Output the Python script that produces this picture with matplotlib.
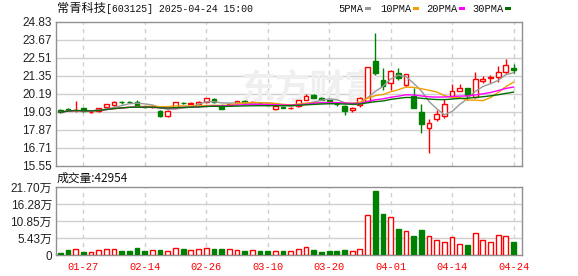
import numpy as np
import pandas as pd
import matplotlib
matplotlib.use('Agg')
import matplotlib.pyplot as plt
from matplotlib.patches import Rectangle

# trading days shown on the chart
dates = ['01-22', '01-23', '01-24', '01-27', '02-05', '02-06', '02-07', '02-10', '02-11', '02-12',
         '02-13', '02-14', '02-17', '02-18', '02-19', '02-20', '02-21', '02-24', '02-25', '02-26',
         '02-27', '02-28', '03-03', '03-04', '03-05', '03-06', '03-07', '03-10', '03-11', '03-12',
         '03-13', '03-14', '03-17', '03-18', '03-19', '03-20', '03-21', '03-24', '03-25', '03-26',
         '03-27', '03-28', '03-31', '04-01', '04-02', '04-03', '04-07', '04-08', '04-09', '04-10',
         '04-11', '04-14', '04-15', '04-16', '04-17', '04-18', '04-21', '04-22', '04-23', '04-24']

opens = [19.15, 19.20, 19.14, 19.27, 19.03, 19.10, 19.36, 19.48, 19.66, 19.68,
         19.64, 19.36, 19.31, 19.10, 18.73, 19.27, 19.60, 19.55, 19.50, 19.68,
         19.88, 19.38, 19.45, 19.58, 19.72, 19.62, 19.58, 19.55, 19.20, 19.35,
         19.25, 19.38, 19.82, 20.10, 19.93, 19.78, 19.55, 19.42, 19.14, 19.45,
         19.70, 22.30, 21.07, 20.86, 21.51, 20.75, 20.04, 18.99, 17.96, 18.58,
         18.77, 20.02, 20.37, 20.56, 19.96, 21.00, 21.20, 21.25, 21.57, 21.83]
highs = [19.20, 19.25, 19.70, 19.30, 19.10, 19.30, 19.55, 19.70, 19.72, 19.75,
         19.77, 19.42, 19.40, 19.15, 19.12, 19.66, 19.66, 19.66, 19.75, 19.93,
         19.92, 19.50, 19.60, 19.72, 19.78, 19.72, 19.62, 19.60, 19.42, 19.40,
         19.35, 19.80, 20.17, 20.15, 19.98, 19.82, 19.62, 19.45, 19.35, 19.95,
         21.89, 24.08, 21.85, 21.70, 21.83, 21.45, 20.55, 19.53, 18.56, 19.14,
         19.83, 20.82, 20.80, 20.58, 21.60, 21.30, 21.40, 21.98, 22.41, 22.10]
lows = [18.98, 19.12, 19.05, 19.03, 18.98, 19.05, 19.30, 19.40, 19.55, 19.60,
        19.40, 19.25, 19.25, 18.68, 18.70, 19.22, 19.50, 19.50, 19.45, 19.60,
        19.60, 19.18, 19.40, 19.55, 19.62, 19.50, 19.50, 19.45, 19.12, 19.25,
        19.18, 19.33, 19.78, 19.90, 19.78, 19.60, 19.40, 18.84, 19.02, 19.35,
        19.65, 21.40, 20.43, 20.45, 21.07, 20.64, 19.30, 17.64, 16.40, 18.45,
        18.64, 20.02, 20.37, 19.80, 19.90, 20.90, 20.90, 20.97, 21.44, 21.50]
closes = [19.00, 19.16, 19.17, 19.06, 19.05, 19.27, 19.53, 19.66, 19.63, 19.66,
          19.42, 19.33, 19.33, 18.73, 19.10, 19.64, 19.57, 19.58, 19.68, 19.90,
          19.65, 19.20, 19.52, 19.70, 19.68, 19.66, 19.52, 19.48, 19.38, 19.28,
          19.30, 19.76, 20.05, 19.93, 19.82, 19.75, 19.50, 19.10, 19.30, 19.90,
          21.89, 21.50, 20.71, 21.66, 21.18, 21.44, 19.30, 18.26, 18.28, 18.86,
          19.51, 20.35, 20.54, 20.13, 21.12, 21.12, 21.25, 21.61, 22.01, 21.70]
# volume in 万 (10k lots)
volumes = [0.64, 1.50, 2.00, 0.96, 0.85, 1.50, 1.80, 1.80, 1.28, 1.28,
           2.20, 1.28, 1.50, 1.60, 1.17, 2.10, 1.90, 1.50, 1.80, 2.10,
           1.90, 1.90, 1.80, 1.50, 1.28, 1.50, 1.28, 1.28, 1.28, 1.28,
           1.28, 1.90, 2.55, 1.60, 0.96, 1.28, 1.28, 1.60, 1.28, 1.90,
           12.8, 20.4, 13.1, 12.0, 8.30, 7.55, 6.07, 8.00, 6.07, 4.68,
           4.04, 5.75, 3.40, 3.20, 6.90, 4.68, 4.04, 6.28, 6.07, 4.2954]

tick_labels = ['01-27', '02-14', '02-26', '03-10', '03-20', '04-01', '04-14', '04-24']
price_ticks = [15.55, 16.71, 17.87, 19.03, 20.19, 21.35, 22.51, 23.67, 24.83]
vol_ticks = [0, 5.43, 10.85, 16.28, 21.70]

ma_periods = [5, 10, 20, 30]
ma_colors = ['#999999', '#f0a000', '#ff00ff', '#006f00']

RED = '#ff0000'
GREEN = '#008000'
GRID = '#d0d0d0'
FRAME = '#909090'

plt.rcParams['font.family'] = ['Liberation Sans', 'Noto Sans CJK SC', 'DejaVu Sans']

fig = plt.figure(figsize=(5.78, 2.76), dpi=100)
W, H = 578, 276
ax = fig.add_axes([56 / W, 1 - 166 / H, 466 / W, 144.5 / H])
axv = fig.add_axes([56 / W, 1 - 255 / H, 466 / W, 68 / H])

x = np.arange(len(dates))
tick_pos = [dates.index(d) for d in tick_labels]
bw = 0.62

for a in (ax, axv):
    a.set_xlim(-0.55, 60.1)
    for s in a.spines.values():
        s.set_color(FRAME)
        s.set_linewidth(1)
    a.set_xticks(tick_pos)
    for p in tick_pos:
        a.axvline(p, color=GRID, lw=1, ls=(0, (3, 3)), zorder=0)
    a.tick_params(length=0, labelsize=8.5, colors='#222222', pad=3)

# price panel
ax.set_ylim(15.55, 24.83)
ax.set_yticks(price_ticks)
ax.set_yticklabels(['%.2f' % t for t in price_ticks])
for t in price_ticks[1:-1]:
    ax.axhline(t, color=GRID, lw=1, zorder=0)
ax.set_xticklabels([])
ax.text(0.545, 0.54, '东方财富', transform=ax.transAxes, fontsize=25, fontweight='bold',
        color='#efefef', ha='center', va='center', zorder=0.5, family=['Noto Sans CJK SC'])

for i in x:
    o, h, l, c = opens[i], highs[i], lows[i], closes[i]
    up = c >= o
    col = RED if up else GREEN
    ax.vlines(i, l, h, color=col, lw=1, zorder=2)
    bottom = min(o, c)
    height = max(abs(c - o), 0.015)
    ax.add_patch(Rectangle((i - bw / 2, bottom), bw, height,
                           facecolor='white' if up else GREEN, edgecolor=col, lw=1, zorder=3))

cl = pd.Series(closes)
for n, colr in zip(ma_periods, ma_colors):
    ax.plot(x, cl.rolling(n, min_periods=1).mean(), color=colr, lw=1, zorder=4)

# volume panel
axv.set_ylim(0, 21.70)
axv.set_yticks(vol_ticks)
axv.set_yticklabels(['0'] + ['%.2f万' % t for t in vol_ticks[1:]])
for t in vol_ticks[1:-1]:
    axv.axhline(t, color=GRID, lw=1, zorder=0)
for i in x:
    up = closes[i] >= opens[i]
    col = RED if up else GREEN
    axv.add_patch(Rectangle((i - bw / 2, 0), bw, volumes[i],
                            facecolor='white' if up else GREEN, edgecolor=col, lw=1, zorder=3))
axv.set_xticklabels(tick_labels, family='Liberation Mono', fontsize=7.5, color=RED)
axv.tick_params(axis='x', pad=5)

# titles and legend
fig.text(57 / W, 1 - 8.5 / H, '常青科技', fontsize=8.8,
         family=['Noto Sans CJK SC'], va='center', ha='left', color='#111111')
fig.text(106 / W, 1 - 8.5 / H, '[603125] 2025-04-24 15:00', fontsize=7.1,
         family='Liberation Mono', va='center', ha='left', color='#111111')
fig.text(57 / W, 1 - 178 / H, '成交量:%d' % round(volumes[-1] * 10000), fontsize=8.5,
         family=['Noto Sans CJK SC'], va='center', ha='left', color='#111111')

leg_x = [338, 380, 426, 472]
sq_x = [365, 413, 459, 505]
for n, colr, lx, sx in zip(ma_periods, ma_colors, leg_x, sq_x):
    fig.text(lx / W, 1 - 8.5 / H, '%dPMA' % n, fontsize=7.5, family='Liberation Mono',
             va='center', ha='left', color='#111111')
    fig.add_artist(Rectangle((sx / W, 1 - 10 / H), 6 / W, 3 / H, transform=fig.transFigure,
                             facecolor=colr, edgecolor='none'))

fig.savefig('out.png', dpi=100)
